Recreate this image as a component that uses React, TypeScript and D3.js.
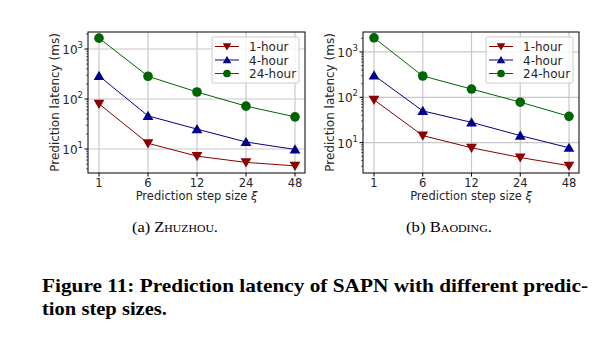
import * as d3 from "d3";

const steps = ["1", "6", "12", "24", "48"];
const seriesNames = ["1-hour", "4-hour", "24-hour"];
const seriesColors = ["#8b0000", "#00008b", "#006400"];

const zhuzhou1h = [80, 13, 7.2, 5.4, 4.6];
const zhuzhou4h = [290, 46, 25, 13.8, 9.8];
const zhuzhou24h = [1650, 285, 138, 72, 44];

const baoding1h = [88, 14.3, 7.7, 4.7, 3.1];
const baoding4h = [305, 50, 28, 14.3, 7.7];
const baoding24h = [2050, 295, 152, 78, 38];

const decades = [10, 100, 1000];

type PanelProps = {
  left: number;
  right: number;
  top: number;
  bottom: number;
  yMin: number;
  yMax: number;
  series: number[][];
  legendX: number;
  legendY: number;
  caption: string;
  tag: string;
  captionX: number;
};

function Marker({ kind, x, y, color, s = 1 }: { kind: number; x: number; y: number; color: string; s?: number }) {
  const r = 5.4 * s;
  if (kind === 0) {
    return <path d={`M${x - r},${y - r * 0.75}L${x + r},${y - r * 0.75}L${x},${y + r * 0.95}Z`} fill={color} />;
  }
  if (kind === 1) {
    return <path d={`M${x - r},${y + r * 0.75}L${x + r},${y + r * 0.75}L${x},${y - r * 0.95}Z`} fill={color} />;
  }
  return <circle cx={x} cy={y} r={4.8 * s} fill={color} />;
}

function Panel(p: PanelProps) {
  const x = d3.scalePoint<string>().domain(steps).range([p.left + 11, p.right - 10]);
  const y = d3.scaleLog().domain([p.yMin, p.yMax]).range([p.bottom, p.top]);
  const line = d3
    .line<number>()
    .x((_, i) => x(steps[i]) as number)
    .y((d) => y(d));

  const minor: number[] = [];
  for (const base of [1, 10, 100, 1000]) {
    for (let k = 2; k <= 9; k++) {
      const v = base * k;
      if (v > p.yMin && v < p.yMax) minor.push(v);
    }
  }
  const font = "DejaVu Sans, sans-serif";
  const ink = "#262626";
  const midY = (p.top + p.bottom) / 2;

  return (
    <g>
      {steps.map((s) => (
        <line key={"gx" + s} x1={x(s)} x2={x(s)} y1={p.top} y2={p.bottom} stroke="#c8c8c8" strokeWidth={1.2} />
      ))}
      {decades.map((d) => (
        <line key={"gy" + d} x1={p.left} x2={p.right} y1={y(d)} y2={y(d)} stroke="#c8c8c8" strokeWidth={1.2} />
      ))}
      {p.series.map((vals, i) => (
        <path key={"l" + i} d={line(vals) ?? ""} fill="none" stroke={seriesColors[i]} strokeWidth={1} />
      ))}
      {p.series.map((vals, i) =>
        vals.map((v, j) => (
          <Marker key={"m" + i + "-" + j} kind={i} x={x(steps[j]) as number} y={y(v)} color={seriesColors[i]} />
        ))
      )}
      <rect x={p.left} y={p.top} width={p.right - p.left} height={p.bottom - p.top} fill="none" stroke="#000" strokeWidth={1} />
      {decades.map((d) => (
        <g key={"ty" + d}>
          <line x1={p.left - 3.5} x2={p.left} y1={y(d)} y2={y(d)} stroke="#000" />
          <text x={p.left - 5} y={y(d) + 5} textAnchor="end" fontFamily={font} fontSize={12} fill={ink}>
            10
            <tspan dy={-6} fontSize={8.5}>
              {Math.round(Math.log10(d))}
            </tspan>
          </text>
        </g>
      ))}
      {minor.map((m) => (
        <line key={"mn" + m} x1={p.left - 2} x2={p.left} y1={y(m)} y2={y(m)} stroke="#000" strokeWidth={0.6} />
      ))}
      {steps.map((s) => (
        <g key={"tx" + s}>
          <line x1={x(s)} x2={x(s)} y1={p.bottom} y2={p.bottom + 3.5} stroke="#000" />
          <text x={x(s)} y={p.bottom + 13.5} textAnchor="middle" fontFamily={font} fontSize={11.5} fill={ink}>
            {s}
          </text>
        </g>
      ))}
      <text x={(p.left + p.right) / 2} y={p.bottom + 27} textAnchor="middle" fontFamily={font} fontSize={11.5} fill={ink}>
        Prediction step size <tspan fontStyle="italic">ξ</tspan>
      </text>
      <text
        transform={`translate(${p.left - 29},${midY}) rotate(-90)`}
        textAnchor="middle"
        fontFamily={font}
        fontSize={12}
        fill={ink}
      >
        Prediction latency (ms)
      </text>
      <rect x={p.legendX} y={p.legendY} width={87} height={46} rx={2} fill="#fff" fillOpacity={0.8} stroke="#ccc" />
      {seriesNames.map((n, i) => {
        const ly = p.legendY + 9.5 + i * 13.5;
        return (
          <g key={"lg" + n}>
            <line x1={p.legendX + 3} x2={p.legendX + 27} y1={ly} y2={ly} stroke={seriesColors[i]} />
            <Marker kind={i} x={p.legendX + 15} y={ly} color={seriesColors[i]} s={0.8} />
            <text x={p.legendX + 37} y={ly + 4.5} fontFamily={font} fontSize={12} fill={ink}>
              {n}
            </text>
          </g>
        );
      })}
      <text
        x={p.captionX - 43}
        y={232}
        fontFamily="Liberation Serif, serif"
        fontSize={14}
        textLength={86}
        lengthAdjust="spacingAndGlyphs"
      >
        {p.tag} <tspan style={{ fontVariant: "small-caps" }}>{p.caption}</tspan>
      </text>
    </g>
  );
}

export default function App() {
  return (
    <svg width={607} height={350} style={{ position: "absolute", left: 0, top: 0 }}>
      <rect width={607} height={350} fill="#fff" />
      <Panel
        left={88}
        right={305}
        top={32}
        bottom={173}
        yMin={Math.pow(10, 0.52)}
        yMax={Math.pow(10, 3.34)}
        series={[zhuzhou1h, zhuzhou4h, zhuzhou24h]}
        legendX={212}
        legendY={37}
        caption="Zhuzhou."
        tag="(a)"
        captionX={175}
      />
      <Panel
        left={363}
        right={579}
        top={32}
        bottom={173}
        yMin={Math.pow(10, 0.33)}
        yMax={Math.pow(10, 3.44)}
        series={[baoding1h, baoding4h, baoding24h]}
        legendX={486}
        legendY={37}
        caption="Baoding."
        tag="(b)"
        captionX={449}
      />
      <text x={42} y={292} fontFamily="Liberation Serif, serif" fontWeight="bold" fontSize={19.5} textLength={546} lengthAdjust="spacingAndGlyphs">
        Figure 11: Prediction latency of SAPN with different predic-
      </text>
      <text x={42} y={315} fontFamily="Liberation Serif, serif" fontWeight="bold" fontSize={19.5} textLength={125} lengthAdjust="spacingAndGlyphs">
        tion step sizes.
      </text>
    </svg>
  );
}
